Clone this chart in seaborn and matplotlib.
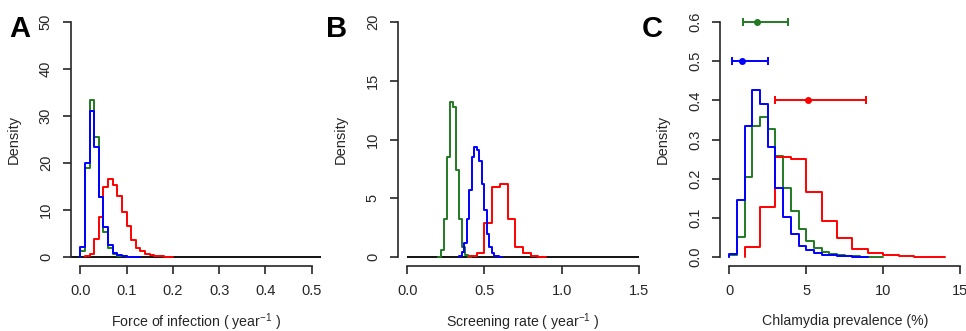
import numpy as np
import pandas as pd
import matplotlib
matplotlib.use("Agg")
import matplotlib.pyplot as plt
import seaborn as sns

# ---- data (densities per bin) ----
# Panel A: force of infection, bins of 0.01
foi_green_start, foi_blue_start, foi_red_start, foi_width = 0.0, 0.0, 0.01, 0.01
foi_green = [1.3, 18.9, 33.3, 25.5, 12.8, 5.3, 2.0, 0.7, 0.3, 0.15, 0.05]
foi_blue = [2.1, 19.9, 31.1, 23.5, 12.8, 6.3, 2.5, 0.8, 0.4, 0.2, 0.1, 0.05, 0.05]
foi_red = [0.15, 0.7, 3.9, 8.5, 14.9, 16.7, 15.3, 13.0, 9.6, 6.5, 3.7, 2.0,
           1.3, 0.7, 0.4, 0.25, 0.12, 0.06, 0.03]

# Panel B: screening rate
scr_green_start, scr_green_width = 0.196, 0.0195
scr_green = [0.03, 0.63, 3.2, 8.5, 13.2, 12.8, 7.4, 3.2, 0.85, 0.2, 0.03]
scr_blue_start, scr_blue_width = 0.336, 0.0162
scr_blue = [0.1, 0.43, 1.15, 3.2, 5.7, 8.5, 9.36, 9.1, 8.2, 6.25, 4.0, 2.0,
            0.85, 0.34, 0.12, 0.05, 0.02]
scr_red_start, scr_red_width = 0.40, 0.05
scr_red = [0.05, 0.35, 2.9, 6.0, 6.25, 3.2, 0.85, 0.3, 0.08, 0.03]

# Panel C: chlamydia prevalence (%)
prev_green_start, prev_blue_start, prev_small_width = 0.0, 0.0, 0.5
prev_green = [0.004, 0.051, 0.204, 0.334, 0.357, 0.328, 0.258, 0.176, 0.117,
              0.072, 0.041, 0.022, 0.013, 0.008, 0.005, 0.003, 0.002, 0.001,
              0.001, 0.001]
prev_blue = [0.0085, 0.145, 0.334, 0.426, 0.39, 0.28, 0.177, 0.102, 0.058,
             0.029, 0.018, 0.01, 0.006, 0.004, 0.003, 0.002, 0.001, 0.001]
prev_red_start, prev_red_width = 1.0, 1.0
prev_red = [0.0255, 0.128, 0.256, 0.25, 0.167, 0.092, 0.048, 0.02, 0.01,
            0.005, 0.003, 0.001, 0.001]

# observed prevalence: point estimate and interval
obs_labels = ["green", "blue", "red"]
obs_level = [0.6, 0.5, 0.4]
obs_mid = [1.82, 0.8, 5.13]
obs_lo = [0.91, 0.21, 2.96]
obs_hi = [3.83, 2.53, 8.87]

GREEN, BLUE, RED = "#237a23", "#0000ff", "#ff0000"
AXC = "#262626"

sns.set_style("ticks")
plt.rcParams["font.family"] = ["Liberation Sans", "DejaVu Sans"]
plt.rcParams["mathtext.fontset"] = "custom"
plt.rcParams["mathtext.rm"] = "Liberation Sans"
plt.rcParams["mathtext.it"] = "Liberation Sans"

W, H = 966, 331
fig = plt.figure(figsize=(W / 100, H / 100), dpi=100)


def add_panel(left_px, width_px):
    top, bottom = 12.6, 266.4
    return fig.add_axes([left_px / W, 1 - bottom / H, width_px / W, (bottom - top) / H])


def step_hist(ax, start, width, heights, color):
    # outline histogram; tiny empty bins at both ends so the outline drops to zero
    edges = start + width * np.arange(len(heights) + 1)
    eps = width * 1e-4
    edges = np.concatenate([[start - eps], edges, [edges[-1] + eps]])
    weights = [0.0] + list(heights) + [0.0]
    df = pd.DataFrame({"x": (edges[:-1] + edges[1:]) / 2, "w": weights})
    sns.histplot(data=df, x="x", weights="w", bins=list(edges), element="step",
                 fill=False, color=color, linewidth=1.4, ax=ax)


def style(ax, xlim, ylim, xticks, yticks, xfmt, yfmt):
    ax.set_xlim(*xlim)
    ax.set_ylim(*ylim)
    ax.set_xticks(xticks)
    ax.set_yticks(yticks)
    ax.set_xticklabels([xfmt.format(v) for v in xticks])
    ax.set_yticklabels([yfmt.format(v) for v in yticks], rotation=90, va="center")
    for s in ("top", "right"):
        ax.spines[s].set_visible(False)
    ax.spines["left"].set_bounds(yticks[0], yticks[-1])
    ax.spines["bottom"].set_bounds(xticks[0], xticks[-1])
    for s in ("left", "bottom"):
        ax.spines[s].set_linewidth(1.2)
        ax.spines[s].set_color(AXC)
    ax.tick_params(length=6, width=1.2, color=AXC, labelsize=10.5, pad=7,
                   labelcolor=AXC)
    ax.set_ylabel("Density", fontsize=10.5, labelpad=13, color=AXC)


# ---- Panel A ----
axA = add_panel(71, 250)
axA.axhline(0, color="black", lw=1.3, zorder=0.5)
step_hist(axA, foi_green_start, foi_width, foi_green, GREEN)
step_hist(axA, foi_red_start, foi_width, foi_red, RED)
step_hist(axA, foi_blue_start, foi_width, foi_blue, BLUE)
style(axA, (-0.02, 0.52), (-2, 52), [0, 0.1, 0.2, 0.3, 0.4, 0.5],
      [0, 10, 20, 30, 40, 50], "{:.1f}", "{:d}")
axA.set_xlabel("Force of infection ( year$^{-1}$ )", fontsize=10.2, labelpad=9, color=AXC)

# ---- Panel B ----
axB = add_panel(398, 250)
axB.hlines(0, 0, 1.5, color="black", lw=1.3, zorder=0.5)
step_hist(axB, scr_green_start, scr_green_width, scr_green, GREEN)
step_hist(axB, scr_red_start, scr_red_width, scr_red, RED)
step_hist(axB, scr_blue_start, scr_blue_width, scr_blue, BLUE)
style(axB, (-0.06, 1.56), (-0.8, 20.8), [0, 0.5, 1.0, 1.5],
      [0, 5, 10, 15, 20], "{:.1f}", "{:d}")
axB.set_xlabel("Screening rate ( year$^{-1}$ )", fontsize=10.2, labelpad=9, color=AXC)

# ---- Panel C ----
axC = add_panel(720, 249.5)
step_hist(axC, prev_green_start, prev_small_width, prev_green, GREEN)
step_hist(axC, prev_red_start, prev_red_width, prev_red, RED)
step_hist(axC, prev_blue_start, prev_small_width, prev_blue, BLUE)
for name, lvl, mid, lo, hi in zip(obs_labels, obs_level, obs_mid, obs_lo, obs_hi):
    col = {"green": GREEN, "blue": BLUE, "red": RED}[name]
    axC.errorbar([mid], [lvl], xerr=[[mid - lo], [hi - mid]], fmt="o", ms=4,
                 color=col, ecolor=col, elinewidth=1.4, capsize=3, capthick=1.4,
                 clip_on=False, zorder=4)
style(axC, (-0.6, 15.6), (-0.024, 0.624), [0, 5, 10, 15],
      [0.0, 0.1, 0.2, 0.3, 0.4, 0.5, 0.6], "{:d}", "{:.1f}")
axC.set_xlabel("Chlamydia prevalence (%)", fontsize=10.2, labelpad=11, color=AXC)

for x, letter in [(9, "A"), (326, "B"), (642, "C")]:
    fig.text(x / W, 1 - 37 / H, letter, fontsize=21, fontweight="bold",
             ha="left", va="baseline", color="black")

fig.savefig("out.png", dpi=100)
